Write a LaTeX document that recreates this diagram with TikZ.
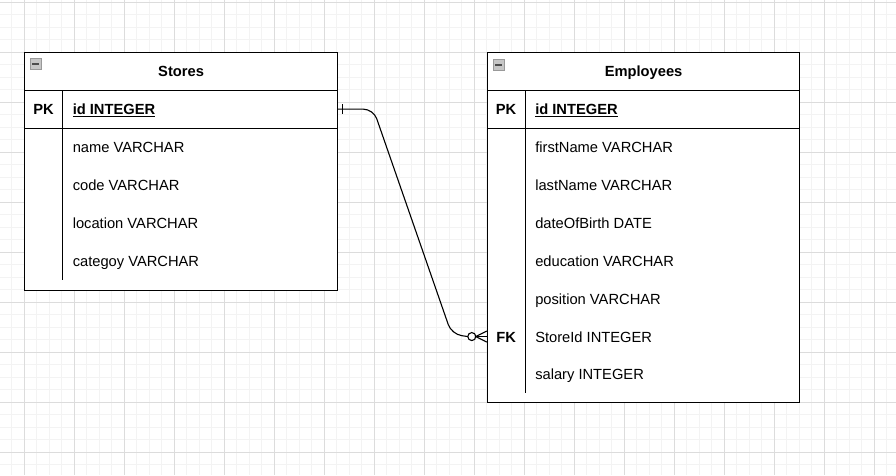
\documentclass[tikz,border=0pt]{standalone}
\usepackage{fontspec}
\setmainfont{Liberation Sans}
\usepackage{tikz}
\usetikzlibrary{positioning}
\definecolor{gridminor}{HTML}{F3F3F3}
\definecolor{gridmajor}{HTML}{DCDCDC}
\newcommand{\erfont}{\fontsize{14.7}{17}\selectfont}
\tikzstyle{entity} = [rectangle, draw=black, fill=white, line width=1.1pt, minimum width=312.5pt, anchor=north west, inner sep=0pt]
\tikzstyle{header} = [rectangle, minimum width=312.5pt, minimum height=37.5pt, inner sep=0pt, text height=14pt, text depth=3pt, font=\erfont\bfseries]
\tikzstyle{keycell} = [rectangle, minimum width=37.5pt, minimum height=37.5pt, inner sep=0pt, text height=14pt, text depth=3pt, font=\erfont\bfseries]
\tikzstyle{field} = [inner sep=0pt, text height=14pt, text depth=3pt, font=\erfont]
\tikzstyle{keyfield} = [inner sep=0pt, text height=14pt, text depth=3pt, font=\erfont\bfseries]
\tikzstyle{collapse} = [rectangle, draw=gray!80, fill=gray!45, line width=0.8pt, minimum size=10.5pt, inner sep=0pt]
\tikzstyle{line} = [line width=1.1pt]
\tikzstyle{relation} = [line width=1.1pt, rounded corners=10pt]

\begin{document}
\begin{tikzpicture}[x=1pt, y=-1pt]

\useasboundingbox (0,0) rectangle (896,475);
\foreach \i in {0,...,71} \draw [gridminor, line width=0.8pt] (11.8+12.5*\i,0) -- (11.8+12.5*\i,475);
\foreach \j in {0,...,37} \draw [gridminor, line width=0.8pt] (0,2.3+12.5*\j) -- (896,2.3+12.5*\j);
\foreach \i in {0,...,17} \draw [gridmajor, line width=0.8pt] (24.3+50*\i,0) -- (24.3+50*\i,475);
\foreach \j in {0,...,9} \draw [gridmajor, line width=0.8pt] (0,2.3+50*\j) -- (896,2.3+50*\j);

\node (stores) [entity, minimum height=237.5pt] at (24.3,52.3) {};
\node (stores-h) [header, below=0pt of stores.north] {Stores};
\node (stores-c) [collapse, below right=6pt and 6pt of stores.north west] {\color{black!70}\rule[0.2pt]{7pt}{2pt}};
\node (s-pk) [keycell, below right=0pt and 0pt of stores-h.south west] {PK};
\node (s-k1) [keycell, below=0pt of s-pk] {};
\node (s-k2) [keycell, below=0pt of s-k1] {};
\node (s-k3) [keycell, below=0pt of s-k2] {};
\node (s-k4) [keycell, below=0pt of s-k3] {};
\node (s-id) [keyfield, right=10pt of s-pk] {\underline{id INTEGER}};
\node (s-name) [field, right=10pt of s-k1] {name VARCHAR};
\node (s-code) [field, right=10pt of s-k2] {code VARCHAR};
\node (s-loc) [field, right=10pt of s-k3] {location VARCHAR};
\node (s-cat) [field, right=10pt of s-k4] {categoy VARCHAR};

\node (employees) [entity, minimum height=350pt] at (486.8,52.3) {};
\node (employees-h) [header, below=0pt of employees.north] {Employees};
\node (employees-c) [collapse, below right=7pt and 6.5pt of employees.north west] {\color{black!70}\rule[0.2pt]{7pt}{2pt}};
\node (e-pk) [keycell, below right=0pt and 0pt of employees-h.south west] {PK};
\node (e-k1) [keycell, below=0pt of e-pk] {};
\node (e-k2) [keycell, below=0pt of e-k1] {};
\node (e-k3) [keycell, below=0pt of e-k2] {};
\node (e-k4) [keycell, below=0pt of e-k3] {};
\node (e-k5) [keycell, below=0pt of e-k4] {};
\node (e-fk) [keycell, below=0pt of e-k5] {FK};
\node (e-k7) [keycell, below=0pt of e-fk] {};
\node (e-id) [keyfield, right=10pt of e-pk] {\underline{id INTEGER}};
\node (e-first) [field, right=10pt of e-k1] {firstName VARCHAR};
\node (e-last) [field, right=10pt of e-k2] {lastName VARCHAR};
\node (e-birth) [field, right=10pt of e-k3] {dateOfBirth DATE};
\node (e-edu) [field, right=10pt of e-k4] {education VARCHAR};
\node (e-pos) [field, right=10pt of e-k5] {position VARCHAR};
\node (e-store) [field, right=10pt of e-fk] {StoreId INTEGER};
\node (e-salary) [field, right=10pt of e-k7] {salary INTEGER};

\draw [line] (stores-h.south west) -- (stores-h.south east);
\draw [line] (s-pk.south west) -- (s-pk.south -| stores.east);
\draw [line] (s-pk.north east) -- (s-k4.south east);
\draw [line] (employees-h.south west) -- (employees-h.south east);
\draw [line] (e-pk.south west) -- (e-pk.south -| employees.east);
\draw [line] (e-pk.north east) -- (e-k7.south east);

\coordinate (s-out) at (s-pk -| stores.east);
\coordinate (e-in) at (e-fk -| employees.west);
\coordinate (e-ring) at ([xshift=-19pt]e-in);
\draw [relation] (s-out) -- ++(35.5,0) -- ++(78.2,225) -- (e-ring);
\draw [line] (s-out) ++(5,-5) -- ++(0,10);
\draw [line] ([xshift=-15pt]e-in) circle (4);
\draw [line] ([xshift=-11pt]e-in) -- ([yshift=5.5pt]e-in);
\draw [line] ([xshift=-11pt]e-in) -- (e-in);
\draw [line] ([xshift=-11pt]e-in) -- ([yshift=-5.5pt]e-in);

\end{tikzpicture}
\end{document}
